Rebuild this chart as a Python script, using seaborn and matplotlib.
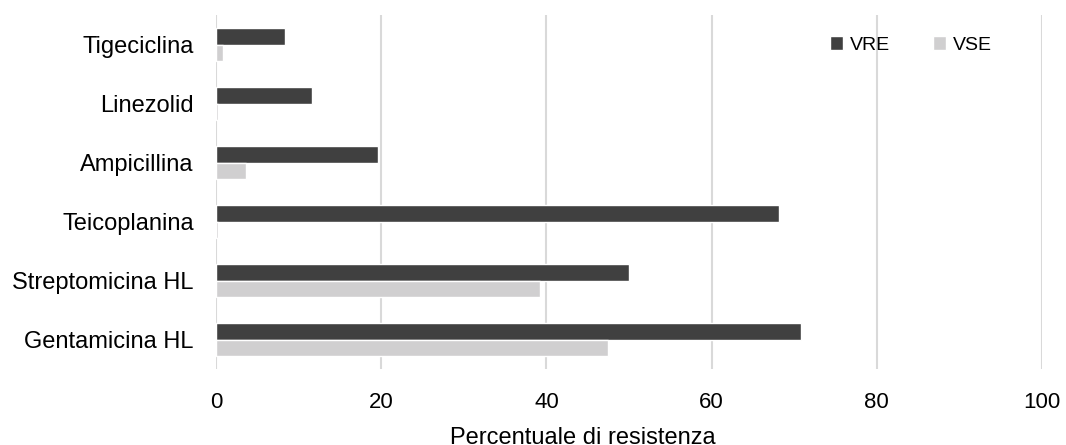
import seaborn as sns
import matplotlib.pyplot as plt
import pandas as pd

antibiotici = ['Tigeciclina', 'Linezolid', 'Ampicillina', 'Teicoplanina',
               'Streptomicina HL', 'Gentamicina HL']
vre = [8.3, 11.6, 19.6, 68.2, 50.0, 70.8]
vse = [0.9, 0.3, 3.6, 0.3, 39.2, 47.4]
gruppi = ['VRE', 'VSE']
colori = ['#404040', '#d0cfd0']
x_ticks = [0, 20, 40, 60, 80, 100]

df = pd.DataFrame({
    'Antibiotico': antibiotici * 2,
    'Gruppo': ['VRE'] * len(vre) + ['VSE'] * len(vse),
    'Valore': vre + vse,
})

sns.set_style('white')
plt.rcParams['font.family'] = ['Liberation Sans', 'DejaVu Sans']
plt.rcParams['text.color'] = 'black'
plt.rcParams['xtick.color'] = 'black'
plt.rcParams['ytick.color'] = 'black'
plt.rcParams['axes.labelcolor'] = 'black'

fig = plt.figure(figsize=(10.66, 4.45), dpi=100)
ax = fig.add_axes([0.2026, 0.170, 0.7749, 0.796])

sns.barplot(data=df, x='Valore', y='Antibiotico', hue='Gruppo',
            hue_order=gruppi, palette=colori, order=antibiotici,
            width=0.56, saturation=1, ax=ax)

ax.set_xlim(0, 100)
ax.set_ylim(5.5, -0.5)
ax.set_xticks(x_ticks)
ax.xaxis.grid(True, color='#d9d9d9', linewidth=1.5)
ax.set_axisbelow(True)
for s in ax.spines.values():
    s.set_visible(False)
ax.tick_params(axis='y', length=0, labelsize=17, pad=16)
ax.tick_params(axis='x', length=0, labelsize=16, pad=16)
ax.set_ylabel('')
ax.set_xlabel('Percentuale di resistenza', fontsize=17)
ax.xaxis.set_label_coords(0.444, -0.162)

leg = ax.legend(loc='upper right', bbox_to_anchor=(0.961, 0.99), ncol=2,
                frameon=False, fontsize=14, handlelength=0.7, handleheight=0.7,
                handletextpad=0.35, columnspacing=2.2)
leg.set_title(None)

fig.savefig('out.png', dpi=100)
